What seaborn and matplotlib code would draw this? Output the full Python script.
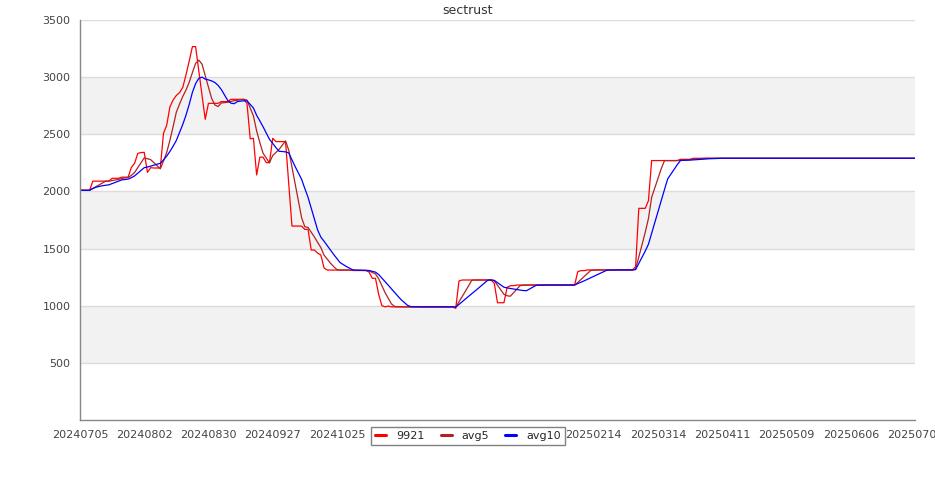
import numpy as np
import pandas as pd
import matplotlib
matplotlib.use("Agg")
import matplotlib.pyplot as plt
from matplotlib.lines import Line2D
import seaborn as sns

# === Data (one value per trading day) ===
price_9921 = (
    [2010] * 4 + [2090] * 6 + [2115] * 3 + [2125] * 3
    + [2211, 2246, 2333, 2340, 2342, 2167, 2208] + [2205] * 3
    + [2508, 2580, 2740, 2800, 2840, 2864, 2910, 3020, 3140, 3267, 3267, 3050, 2840, 2631]
    + [2771] * 4 + [2786] * 3 + [2806] * 5
    + [2770, 2460, 2465, 2144, 2300, 2300, 2252, 2252, 2465] + [2436] * 4
    + [2060] + [1697] * 4 + [1668] * 2 + [1487] * 2 + [1460, 1444, 1330]
    + [1312] * 8 + [1308] * 5 + [1295, 1240, 1240, 1100, 1000, 990, 997]
    + [990] * 20 + [977, 1216] + [1225] * 10 + [1196] + [1026] * 3
    + [1161, 1175, 1175] + [1181] * 19 + [1298, 1307, 1307] + [1313] * 15
    + [1342, 1852, 1852, 1852, 1919] + [2270] * 9 + [2281] * 4 + [2290] * 70
)

avg5 = (
    [2010, 2010, 2010, 2010, 2026, 2042, 2058, 2074, 2090, 2090,
     2095, 2100, 2105, 2112, 2119, 2121, 2140, 2166, 2208, 2251,
     2294, 2286, 2278, 2252, 2225, 2198, 2266, 2341, 2448, 2567,
     2694, 2765, 2831, 2887, 2955, 3040, 3121, 3149, 3113, 3011,
     2912, 2813, 2757, 2743, 2774, 2777, 2780, 2787, 2794, 2798,
     2802, 2806, 2799, 2730, 2661, 2529, 2428, 2334, 2292, 2250,
     2314, 2341, 2368, 2405, 2442, 2361, 2213, 2065, 1917, 1770,
     1691, 1685, 1643, 1601, 1554, 1509, 1442, 1407, 1372, 1342,
     1316, 1312, 1312, 1312, 1312, 1311, 1310, 1310, 1309, 1308,
     1305, 1292, 1278, 1237, 1175, 1114, 1065, 1015, 993, 991,
     991]
    + [990] * 16 + [987, 1033, 1080, 1127, 1174, 1223] + [1225] * 6
    + [1219, 1179, 1140, 1100, 1087, 1083, 1113, 1144, 1175, 1179, 1180] + [1181] * 15
    + [1204, 1230, 1255, 1281, 1308, 1311, 1312] + [1313] * 11
    + [1319, 1427, 1534, 1642, 1763, 1949, 2033, 2116, 2200] + [2270] * 5
    + [2272, 2274, 2277, 2279, 2283, 2285, 2286, 2288] + [2290] * 66
)

avg10 = (
    [2010, 2010, 2010, 2010, 2026, 2037, 2044, 2050, 2054, 2058,
     2068, 2079, 2090, 2101, 2104, 2108, 2120, 2136, 2160, 2185,
     2208, 2213, 2222, 2230, 2238, 2246, 2276, 2309, 2350, 2396,
     2446, 2516, 2586, 2667, 2761, 2867, 2943, 2990, 3000, 2983,
     2976, 2967, 2953, 2928, 2892, 2844, 2796, 2772, 2768, 2786,
     2790, 2793, 2793, 2762, 2730, 2666, 2617, 2566, 2511, 2456,
     2421, 2384, 2351, 2349, 2346, 2337, 2277, 2217, 2161, 2106,
     2026, 1949, 1854, 1759, 1662, 1600, 1564, 1525, 1486, 1448,
     1412, 1377, 1359, 1342, 1327, 1313, 1311, 1311, 1310, 1310,
     1308, 1301, 1294, 1273, 1242, 1210, 1179, 1147, 1115, 1083,
     1053, 1028, 1003, 992, 991, 991]
    + [990] * 11
    + [989, 1011, 1035, 1058, 1082, 1105, 1129, 1152, 1176, 1199, 1224, 1225, 1222]
    + [1202, 1182, 1162, 1156, 1151, 1146, 1142, 1137, 1133, 1131, 1147, 1162, 1178, 1180, 1180]
    + [1181] * 10
    + [1193, 1205, 1218, 1231, 1244, 1258, 1271, 1284, 1297, 1310, 1312, 1312]
    + [1313] * 6
    + [1316, 1370, 1424, 1478, 1538, 1634, 1730, 1825, 1921, 2017,
       2110, 2151, 2193, 2235, 2271, 2272, 2273, 2274, 2276, 2278,
       2280, 2282, 2284, 2286, 2287, 2288, 2289]
    + [2290] * 61
)

series_names = ["9921", "avg5", "avg10"]
series_colors = ["#ff0000", "#b22222", "#0000ff"]

# trading days 20240705 .. 20250704, a label every 20 days
dates = pd.bdate_range("2024-07-05", "2025-07-04").strftime("%Y%m%d")

df = pd.DataFrame({"date": dates, "9921": price_9921, "avg5": avg5, "avg10": avg10})
df["pos"] = np.arange(len(df))
long_df = df.melt(id_vars=["pos", "date"], value_vars=series_names,
                  var_name="series", value_name="value")

# === Figure ===
sns.set_style("white")
plt.rcParams["font.family"] = ["DejaVu Sans"]
fig = plt.figure(figsize=(9.35, 5), dpi=100)
ax = fig.add_axes([80 / 935, 80 / 500, 835 / 935, 400 / 500])

# alternating bands + grid
for lo in range(500, 3500, 1000):
    ax.axhspan(lo, lo + 500, color="#f2f2f2", zorder=0, lw=0)
for y in range(500, 3501, 500):
    ax.axhline(y, color="#dcdcdc", lw=1, zorder=0.5)

palette = dict(zip(series_names, series_colors))
sns.lineplot(data=long_df, x="pos", y="value", hue="series", hue_order=series_names,
             palette=palette, linewidth=0.9, ax=ax, legend=False)

# === Axes ===
ax.set_xlim(0, len(df) - 1)
ax.set_ylim(0, 3500)
ax.set_xticks(df["pos"][::20])
ax.set_xticklabels(df["date"][::20])
ax.set_yticks(range(500, 3501, 500))
ax.set_yticks(range(0, 3501, 100), minor=True)
ax.tick_params(axis="x", length=0, pad=7, labelsize=8, colors="#444444")
ax.tick_params(axis="y", which="major", length=4.3, width=1, pad=2.5,
               labelsize=8, colors="#888888", labelcolor="#444444")
ax.tick_params(axis="y", which="minor", length=2.2, width=1, colors="#888888")
ax.set_xlabel("")
ax.set_ylabel("")
for side in ["top", "right"]:
    ax.spines[side].set_visible(False)
for side in ["left", "bottom"]:
    ax.spines[side].set_color("#888888")
    ax.spines[side].set_linewidth(1)

fig.text(0.5, 1 - 10 / 500, "sectrust", ha="center", va="center",
         fontsize=9, color="#333333")

# --- legend sits on top of the date labels ---
handles = [Line2D([0], [0], color=c, lw=2.2) for c in series_colors]
leg = fig.legend(handles, series_names, loc="center", bbox_to_anchor=(468 / 935, 1 - 436 / 500),
                 ncol=3, fontsize=8, handlelength=1.0, handletextpad=0.9,
                 columnspacing=1.45, borderpad=0.35, fancybox=False, framealpha=1)
leg.get_frame().set_edgecolor("#808080")
leg.get_frame().set_linewidth(1)

fig.savefig("out.png", dpi=100)
plt.close()
